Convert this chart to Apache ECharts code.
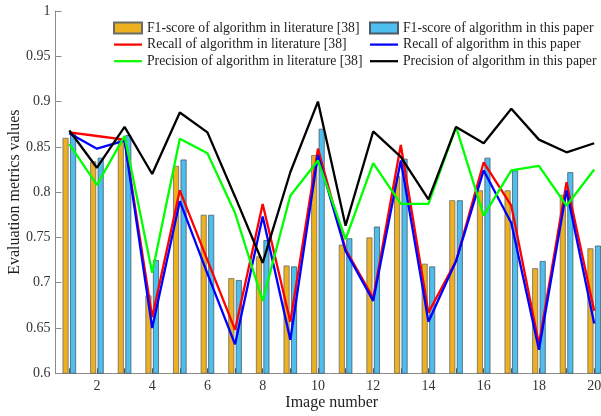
<!DOCTYPE html>
<html>
<head>
<meta charset="utf-8">
<script src="https://cdn.jsdelivr.net/npm/echarts@6/dist/echarts.min.js"></script>
<style>
html,body{margin:0;padding:0;background:#fff;}
#chart{width:601px;height:416px;}
</style>
</head>
<body>
<div id="chart"></div>
<script>
const categories = ['1','2','3','4','5','6','7','8','9','10','11','12','13','14','15','16','17','18','19','20'];
const f1Lit = [0.860,0.834,0.858,0.686,0.829,0.775,0.705,0.729,0.719,0.841,0.742,0.750,0.818,0.721,0.791,0.802,0.802,0.716,0.797,0.738];
const f1Ours = [0.866,0.838,0.863,0.725,0.836,0.775,0.703,0.747,0.718,0.870,0.749,0.762,0.837,0.718,0.791,0.838,0.824,0.724,0.822,0.741];
const recallLit = [0.866,0.862,0.858,0.662,0.802,0.725,0.648,0.787,0.657,0.848,0.737,0.683,0.852,0.667,0.724,0.833,0.785,0.632,0.811,0.669];
const recallOurs = [0.865,0.848,0.857,0.650,0.790,0.710,0.632,0.773,0.637,0.841,0.735,0.680,0.835,0.657,0.724,0.824,0.766,0.626,0.802,0.655];
const precLit = [0.853,0.808,0.862,0.711,0.859,0.843,0.777,0.680,0.796,0.835,0.748,0.832,0.787,0.787,0.872,0.774,0.824,0.829,0.785,0.825];
const precOurs = [0.868,0.827,0.872,0.820,0.888,0.866,0.795,0.722,0.822,0.900,0.763,0.867,0.839,0.792,0.872,0.854,0.892,0.858,0.844,0.854];

const names = {
  f1Lit: 'F1-score of algorithm in literature [38]',
  f1Ours: 'F1-score of algorithm in this paper',
  recLit: 'Recall of algorithm in literature [38]',
  recOurs: 'Recall of algorithm in this paper',
  preLit: 'Precision of algorithm in literature [38]',
  preOurs: 'Precision of algorithm in this paper'
};

const FONT = "'Liberation Serif','Times New Roman',serif";
const LINE_ICON = 'path://M0,0 L40,0 L40,3.2 L0,3.2 Z';
const chart = echarts.init(document.getElementById('chart'), null, {renderer:'canvas'});

const legendCommon = {
  orient: 'vertical',
  top: 21,
  itemWidth: 28,
  itemHeight: 11,
  itemGap: 2.6,
  padding: 0,
  symbolKeepAspect: true,
  textStyle: {fontFamily: FONT, fontSize: 13.7, color: '#222', lineHeight: 14}
};

function lineSeries(name, data, color) {
  return {
    name, type: 'line', data, symbol: 'none', z: 5,
    lineStyle: {color, width: 2.3},
    itemStyle: {color}
  };
}

chart.setOption({
  animation: false,
  grid: {left: 55.5, right: -7, top: 11, bottom: 42.7, containLabel: false, outerBoundsMode: 'none'},
  legend: [
    Object.assign({}, legendCommon, {left: 113, data: [
      {name: names.f1Lit, icon: 'rect'},
      {name: names.recLit, icon: LINE_ICON},
      {name: names.preLit, icon: LINE_ICON}
    ]}),
    Object.assign({}, legendCommon, {left: 369, data: [
      {name: names.f1Ours, icon: 'rect'},
      {name: names.recOurs, icon: LINE_ICON},
      {name: names.preOurs, icon: LINE_ICON}
    ]})
  ],
  xAxis: {
    type: 'category',
    data: categories,
    boundaryGap: true,
    name: 'Image number',
    nameLocation: 'middle',
    nameGap: 21,
    nameMoveOverlap: false,
    nameTextStyle: {fontFamily: FONT, fontSize: 16, color: '#222'},
    axisLine: {lineStyle: {color: '#8a8a8a', width: 1}},
    axisTick: {show: true, inside: true, alignWithLabel: true, interval: 0, length: 5, lineStyle: {color: '#555'}},
    axisLabel: {
      fontFamily: FONT, fontSize: 14, color: '#333', margin: 6,
      interval: function (i) { return i % 2 === 1; }
    },
    splitLine: {show: false}
  },
  yAxis: {
    type: 'value',
    min: 0.6, max: 1, interval: 0.05,
    name: 'Evaluation metrics values',
    nameLocation: 'middle',
    nameGap: 33,
    nameMoveOverlap: false,
    nameTextStyle: {fontFamily: FONT, fontSize: 16, color: '#222'},
    axisLine: {show: true, lineStyle: {color: '#8a8a8a', width: 1}},
    axisTick: {show: true, inside: true, length: 6, lineStyle: {color: '#8a8a8a'}},
    axisLabel: {
      fontFamily: FONT, fontSize: 14, color: '#333', margin: 5,
      formatter: function (v) { return String(+v.toFixed(2)); }
    },
    splitLine: {show: false}
  },
  series: [
    {name: names.f1Lit, type: 'bar', data: f1Lit, barWidth: 6, barGap: '25%', z: 2,
     itemStyle: {color: '#EDB120', borderColor: '#6b6b6b', borderWidth: 0.8}},
    {name: names.f1Ours, type: 'bar', data: f1Ours, barWidth: 6, barGap: '25%', z: 2,
     itemStyle: {color: '#4DBEEE', borderColor: '#4a5a66', borderWidth: 0.8}},
    lineSeries(names.recLit, recallLit, '#FF0000'),
    lineSeries(names.recOurs, recallOurs, '#0000FF'),
    lineSeries(names.preLit, precLit, '#00FF00'),
    lineSeries(names.preOurs, precOurs, '#000000')
  ]
});
</script>
</body>
</html>
